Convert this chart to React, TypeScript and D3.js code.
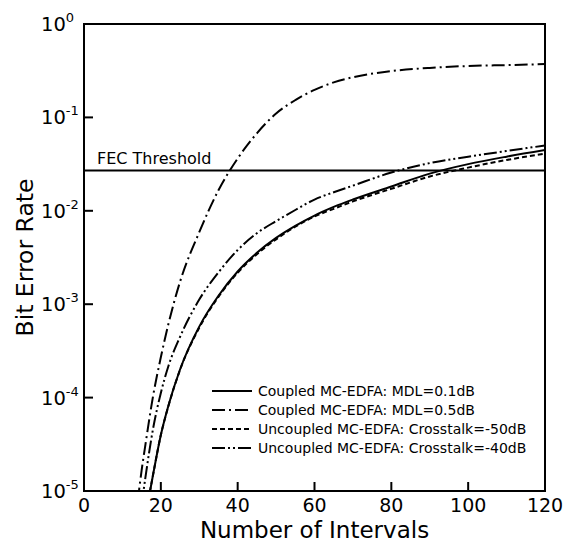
import React from 'react';
import * as d3 from 'd3';

// number of amplifier intervals (shared x grid)
const intervals = [14, 15, 16, 18, 20, 22, 25, 30, 35, 40, 45, 50, 55, 60, 65, 70, 80, 90, 100, 110, 120];

// BER (null = below the plotted range)
const coupledMdl01 = [null, null, 5.4e-6, 1.51e-5, 3.98e-5, 8.3e-5, 2.0e-4, 5.75e-4, 1.23e-3, 2.24e-3, 3.55e-3, 5.13e-3, 6.9e-3, 8.9e-3, 1.1e-2, 1.32e-2, 1.82e-2, 2.5e-2, 3.16e-2, 3.8e-2, 4.47e-2];
const coupledMdl05 = [7.9e-6, 1.66e-5, 3.16e-5, 1.05e-4, 2.7e-4, 6.2e-4, 1.74e-3, 5.9e-3, 1.66e-2, 3.63e-2, 6.76e-2, 0.11, 0.153, 0.197, 0.237, 0.269, 0.313, 0.339, 0.355, 0.363, 0.372];
const uncoupledXt50 = [null, null, 5.4e-6, 1.51e-5, 3.98e-5, 8.2e-5, 1.98e-4, 5.6e-4, 1.2e-3, 2.17e-3, 3.43e-3, 4.95e-3, 6.76e-3, 8.7e-3, 1.05e-2, 1.26e-2, 1.72e-2, 2.33e-2, 2.9e-2, 3.5e-2, 4.1e-2];
const uncoupledXt40 = [null, 7.1e-6, 1.41e-5, 4.7e-5, 1.12e-4, 2.19e-4, 4.47e-4, 1.12e-3, 2.19e-3, 3.8e-3, 5.75e-3, 7.76e-3, 1.02e-2, 1.32e-2, 1.58e-2, 1.86e-2, 2.57e-2, 3.24e-2, 3.8e-2, 4.37e-2, 5.0e-2];

const fecThreshold = 2.7e-2;

const xTicks = [0, 20, 40, 60, 80, 100, 120];
const yExponents = [0, -1, -2, -3, -4, -5];

const seriesLabels = [
  'Coupled MC-EDFA: MDL=0.1dB',
  'Coupled MC-EDFA: MDL=0.5dB',
  'Uncoupled MC-EDFA: Crosstalk=-50dB',
  'Uncoupled MC-EDFA: Crosstalk=-40dB',
];

const W = 575, H = 542;
const margin = { top: 24, right: 30, bottom: 51, left: 84 };
const iw = W - margin.left - margin.right;
const ih = H - margin.top - margin.bottom;
const font = '"DejaVu Sans", Verdana, sans-serif';

export default function App() {
  const x = d3.scaleLinear().domain([0, 120]).range([0, iw]);
  const y = d3.scaleLog().domain([1e-5, 1]).range([ih, 0]);

  const series = [
    { values: coupledMdl01, dash: 'none' },
    { values: coupledMdl05, dash: '13,4,2,4' },
    { values: uncoupledXt50, dash: '5,3' },
    { values: uncoupledXt40, dash: '13,3,2,3,2,3' },
  ];

  const line = d3.line<[number, number | null]>()
    .defined(d => d[1] != null)
    .x(d => x(d[0]))
    .y(d => y(d[1] as number))
    .curve(d3.curveMonotoneX);

  const legendX = 212 - margin.left;
  const legendY = 391 - margin.top;
  const legendStep = 19;

  return (
    <svg width={W} height={H} style={{ position: 'absolute', left: 0, top: 0, background: '#fff' }} fontFamily={font}>
      <defs>
        <clipPath id="plot-clip">
          <rect x={0} y={0} width={iw} height={ih} />
        </clipPath>
      </defs>
      <g transform={`translate(${margin.left},${margin.top})`}>
        {/* curves */}
        <g clipPath="url(#plot-clip)">
          {series.map((s, i) => (
            <path
              key={i}
              d={line(intervals.map((v, j) => [v, s.values[j]]) as [number, number | null][]) || ''}
              fill="none"
              stroke="#000"
              strokeWidth={2}
              strokeDasharray={s.dash}
            />
          ))}
          <line x1={0} x2={iw} y1={y(fecThreshold)} y2={y(fecThreshold)} stroke="#000" strokeWidth={2} />
        </g>
        <text x={13} y={y(fecThreshold) - 7} fontSize={16}>FEC Threshold</text>

        {/* frame */}
        <rect x={0} y={0} width={iw} height={ih} fill="none" stroke="#000" strokeWidth={2} />

        {/* x ticks */}
        {xTicks.map(t => (
          <g key={t} transform={`translate(${x(t)},0)`}>
            {t > 0 && t < 120 && <line y1={ih} y2={ih - 9} stroke="#000" strokeWidth={2} />}
            <text y={ih + 21} textAnchor="middle" fontSize={19}>{t}</text>
          </g>
        ))}

        {/* y ticks */}
        {yExponents.map(e => (
          <g key={e} transform={`translate(0,${y(Math.pow(10, e))})`}>
            {e < 0 && e > -5 && <line x1={0} x2={9} stroke="#000" strokeWidth={2} />}
            <text x={-43} y={7} fontSize={19.5}>
              10<tspan dy={-9} fontSize={13}>{e}</tspan>
            </text>
          </g>
        ))}

        {/* axis titles */}
        <text x={iw / 2} y={ih + 47} textAnchor="middle" fontSize={23}>Number of Intervals</text>
        <text transform={`translate(-51,${ih / 2}) rotate(-90)`} textAnchor="middle" fontSize={23.5}>Bit Error Rate</text>

        {/* legend */}
        {series.map((s, i) => (
          <g key={i} transform={`translate(${legendX},${legendY + i * legendStep})`}>
            <line x1={0} x2={40} stroke="#000" strokeWidth={2} strokeDasharray={s.dash} />
            <text x={46} y={5} fontSize={14}>{seriesLabels[i]}</text>
          </g>
        ))}
      </g>
    </svg>
  );
}
